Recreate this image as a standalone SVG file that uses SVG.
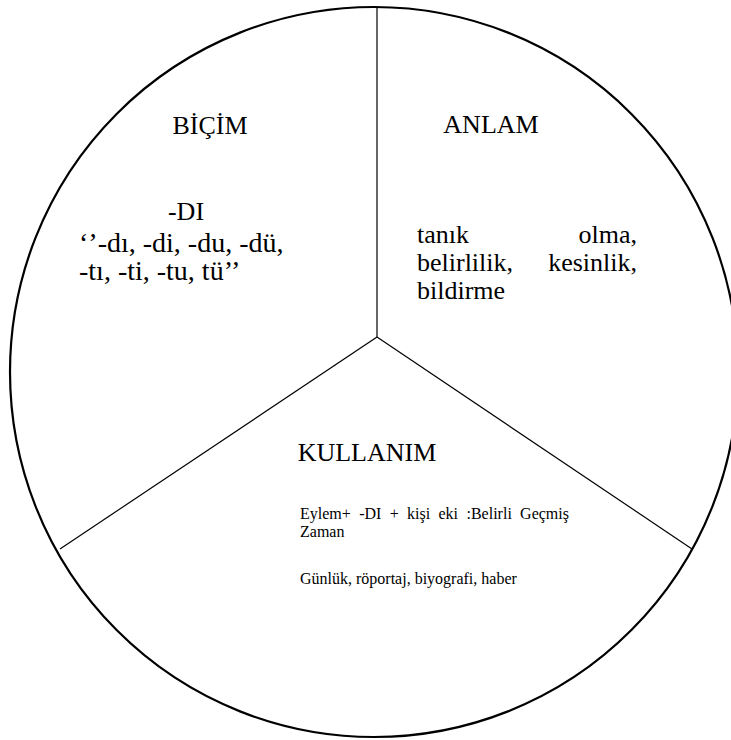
<svg xmlns="http://www.w3.org/2000/svg" width="731" height="740" viewBox="0 0 731 740">
<style>
text{fill:#000}
.h{font-size:26px}
.b{font-size:26px}
.c{font-size:28px}
.s{font-size:16px}
.ln{stroke:#000;stroke-width:1.2;fill:none}
</style>
<rect width="731" height="740" fill="#fff"/>
<ellipse id="circle" cx="374" cy="372" rx="364" ry="365" fill="none" stroke="#000" stroke-width="2.2"/>
<g id="connectors">
<line class="ln" x1="377" y1="8" x2="377" y2="337"/>
<line class="ln" x1="377" y1="337" x2="60" y2="549"/>
<line class="ln" x1="377" y1="337" x2="692" y2="549"/>
</g>
<g id="bicim" font-family="Liberation Serif, Times New Roman, serif">
<text class="h" x="210" y="134" text-anchor="middle">BİÇİM</text>
<text class="b" x="186" y="220" text-anchor="middle">-DI</text>
<text class="c" x="79" y="252">‘’-dı, -di, -du, -dü,</text>
<text class="c" x="79" y="280">-tı, -ti, -tu, tü’’</text>
</g>
<g id="anlam" font-family="Liberation Serif, Times New Roman, serif">
<text class="h" x="491" y="133" text-anchor="middle">ANLAM</text>
<text class="b" x="417" y="243">tanık</text>
<text class="b" x="637" y="243" text-anchor="end">olma,</text>
<text class="b" x="417" y="271">belirlilik,</text>
<text class="b" x="637" y="271" text-anchor="end">kesinlik,</text>
<text class="b" x="417" y="299">bildirme</text>
</g>
<g id="kullanim" font-family="Liberation Serif, Times New Roman, serif">
<text class="h" x="367" y="461" text-anchor="middle">KULLANIM</text>
<text class="s" y="519"><tspan x="300">Eylem+</tspan><tspan x="359.2">-DI</tspan><tspan x="389.7">+</tspan><tspan x="407.1">kişi</tspan><tspan x="438.5">eki</tspan><tspan x="466.5">:Belirli</tspan><tspan x="520.1">Geçmiş</tspan></text>
<text class="s" x="300" y="537">Zaman</text>
<text class="s" x="300" y="584">Günlük, röportaj, biyografi, haber</text>
</g>
</svg>
